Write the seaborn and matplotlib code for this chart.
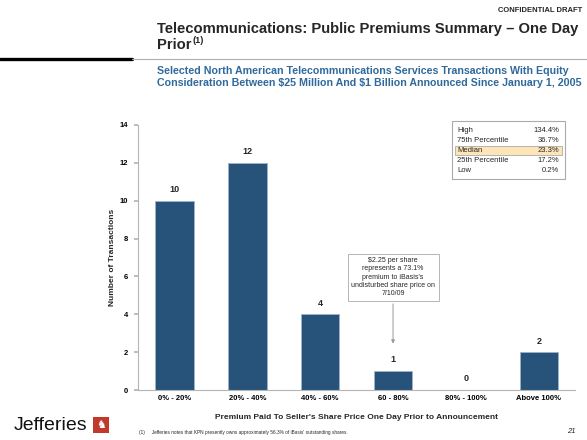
import matplotlib
matplotlib.use("Agg")
import matplotlib.pyplot as plt
from matplotlib.patches import Rectangle
import pandas as pd
import seaborn as sns

# --------------------------- data ---------------------------
categories = ["0% - 20%", "20% - 40%", "40% - 60%", "60 - 80%", "80% - 100%", "Above 100%"]
counts = [10, 12, 4, 1, 0, 2]
stat_names = ["High", "75th Percentile", "Median", "25th Percentile", "Low"]
stat_values = ["134.4%", "36.7%", "23.3%", "17.2%", "0.2%"]
y_ticks = [0, 2, 4, 6, 8, 10, 12, 14]

BAR = "#27527a"
BLUE_TXT = "#2f6a9c"
GREY = "#b5b5b5"

sns.set_theme(style="white")
plt.rcParams["font.family"] = ["Liberation Sans", "DejaVu Sans"]

df = pd.DataFrame({"bucket": categories, "n": counts})

fig = plt.figure(figsize=(5.87, 4.40), dpi=100)
ax = fig.add_axes([0.235, 0.1136, 0.745, 0.6024])
sns.barplot(data=df, x="bucket", y="n", color=BAR, width=0.53, saturation=1,
            edgecolor="#9fb3c8", linewidth=0.6, ax=ax)
ax.set_ylim(0, 14)
ax.set_yticks(y_ticks)
ax.set_xlim(-0.5, len(categories) - 0.5)
for i, v in enumerate(counts):
    ax.text(i, v + 0.35, str(v), ha="center", va="bottom", fontsize=6.5, fontweight="bold")

for s in ("top", "right"):
    ax.spines[s].set_visible(False)
for s in ("left", "bottom"):
    ax.spines[s].set_color(GREY); ax.spines[s].set_linewidth(0.8)
ax.tick_params(axis="both", labelsize=5.5, colors="black", length=0)
ax.tick_params(axis="y", length=3, color=GREY, direction="out", left=True, pad=4)
for lab in ax.get_yticklabels() + ax.get_xticklabels():
    lab.set_fontweight("bold")
ax.set_xlabel("Premium Paid To Seller's Share Price One Day Prior to Announcement",
              fontsize=6, fontweight="bold", labelpad=9)
ax.set_ylabel("Number of Transactions", fontsize=6, fontweight="bold", labelpad=3)

# annotation box for the 60-80% bucket
ax.annotate("\\$2.25 per share\nrepresents a 73.1%\npremium to iBasis's\nundisturbed share price on\n7/10/09",
            xy=(3, 2.3), xytext=(3, 4.9), ha="center", va="bottom", fontsize=5,
            linespacing=1.25,
            bbox=dict(boxstyle="square,pad=0.5", fc="white", ec=GREY, lw=0.7),
            arrowprops=dict(arrowstyle="-|>", color="#999999", lw=0.7, mutation_scale=5))

# stats box
W, H = 587, 440
def fx(px): return px / W
def fy(py): return 1 - py / H
fig.patches.append(Rectangle((fx(452), fy(179)), fx(113), (179 - 121) / H,
                             transform=fig.transFigure, fc="white", ec="#aaaaaa", lw=0.8))
row_y = [131, 141, 150.5, 160, 170]
for name, val, yy in zip(stat_names, stat_values, row_y):
    if name == "Median":
        fig.patches.append(Rectangle((fx(455), fy(yy + 4.5)), fx(107), 9 / H,
                                     transform=fig.transFigure, fc="#fde5b8", ec="#aaaaaa", lw=0.6))
    fig.text(fx(457), fy(yy), name, fontsize=5.5, va="center", ha="left")
    fig.text(fx(559), fy(yy), val, fontsize=5.5, va="center", ha="right")

# header
fig.text(fx(582), fy(10), "CONFIDENTIAL DRAFT", fontsize=5.5, fontweight="bold",
         ha="right", va="center")
fig.text(fx(157), fy(29), "Telecommunications: Public Premiums Summary \u2013 One Day",
         fontsize=10.6, fontweight="bold", ha="left", va="center")
prior = fig.text(fx(157), fy(45), "Prior", fontsize=10.6, fontweight="bold",
                 ha="left", va="center")
ax.annotate("(1)", xy=(1.0, 0.85), xycoords=prior, xytext=(0.4, 0), textcoords="offset points",
            fontsize=6.5, fontweight="bold", ha="left", va="center", annotation_clip=False)
fig.add_artist(plt.Line2D([0, fx(132)], [fy(59.5), fy(59.5)], color="black", lw=2.4,
                          transform=fig.transFigure))
fig.add_artist(plt.Line2D([fx(132), 1], [fy(59.5), fy(59.5)], color="#b0b0b0", lw=0.8,
                          transform=fig.transFigure))
fig.text(fx(157), fy(71), "Selected North American Telecommunications Services Transactions With Equity",
         fontsize=7.65, fontweight="bold", color=BLUE_TXT, ha="left", va="center")
fig.text(fx(157), fy(83.5), "Consideration Between \\$25 Million And \\$1 Billion Announced Since January 1, 2005",
         fontsize=7.65, fontweight="bold", color=BLUE_TXT, ha="left", va="center")

# footer
fig.text(fx(14), fy(425), "Jefferies", fontsize=14, ha="left", va="center", color="#111111")
fig.patches.append(Rectangle((fx(93), fy(433)), fx(16), 16 / H, transform=fig.transFigure,
                             fc="#c0392b", ec="none"))
fig.text(fx(101), fy(425), "\u265e", fontsize=8, color="white", ha="center", va="center",
         family="DejaVu Sans")
fig.text(fx(139), fy(432), "(1)     Jefferies notes that KPN presently owns approximately 56.3% of iBasis' outstanding shares.",
         fontsize=3.4, ha="left", va="center")
fig.text(fx(576), fy(431), "21", fontsize=5.5, style="italic", ha="right", va="center")

fig.savefig("out.png", dpi=100)
